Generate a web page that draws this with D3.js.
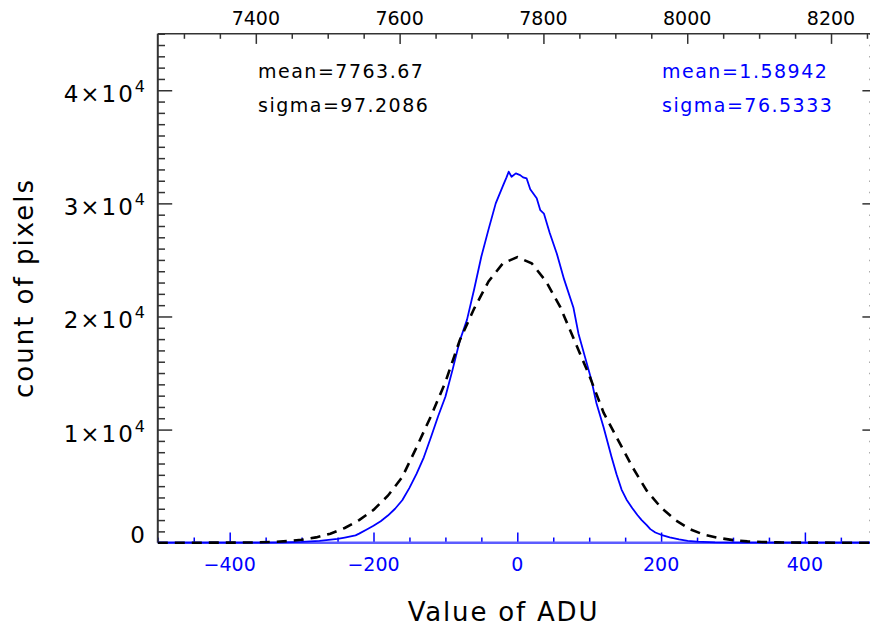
<!DOCTYPE html>
<html><head><meta charset="utf-8">
<script src="https://cdn.jsdelivr.net/npm/d3@7"></script>
<style>body{margin:0;background:#fff}svg{display:block}</style>
</head><body><svg id="c" width="870" height="627"></svg>
<script>
// ---- data ----
const histADU   = [-500,-450,-400,-350,-325,-300,-275,-250,-240,-225,-220,-210,-200,-190,-180,-170,-160,-150,-140,-130,-120,-110,-100,-90,-80,-70,-60,-50,-40,-30,-20,-15,-12,-8,-2,4,8,13,18,27,32,37,45,55,65,78,85,94,103,110,120,131,138,145,152,160,167,173,180,185,192,200,212,225,237,250,275,300,350,400,450,500];
const histCount = [0,0,2,15,35,80,170,330,450,650,800,1150,1500,1900,2400,3000,3750,4850,6100,7550,9350,11200,12900,15300,17850,19700,22400,25300,27700,30000,31550,32300,32800,32350,32650,32500,32300,32200,31250,30450,29400,29100,27400,25550,23300,20800,18500,16450,14400,12350,10200,7600,6050,4700,3800,3050,2450,2000,1550,1200,900,700,470,300,170,90,30,10,2,0,0,0];
const gaussADU   = [-500,-450,-400,-380,-360,-340,-320,-300,-280,-260,-240,-220,-200,-180,-160,-140,-120,-100,-80,-60,-40,-20,0,20,40,60,80,100,120,140,160,180,200,220,240,260,280,300,320,340,360,380,400,450,500];
const gaussCount = [0,1,5,12,30,70,140,260,470,800,1300,2000,2900,4150,5800,8450,11200,14200,17900,20700,23100,24700,25250,24700,23100,20800,17800,14800,11500,9100,6700,4600,3100,2000,1200,700,420,230,120,60,28,12,5,1,0];
const meanOffset = 7763.67;
const bottomMajor = [-400,-200,0,200,400];
const topMajor = [7400,7600,7800,8000,8200];
const yMajor = [0,10000,20000,30000,40000];
const yMajorLabel = ["0","1×10","2×10","3×10","4×10"];
const yMajorExp = ["","4","4","4","4"];
const statsBlack = ["mean=7763.67","sigma=97.2086"];
const statsBlue = ["mean=1.58942","sigma=76.5333"];
const xTitle = "Value of ADU";
const yTitle = "count of pixels";

// ---- layout ----
const L = 157.8, R = 876.8, T = 33.7, B = 542.7;
const BLUE = "#0000ff", FONT = "'DejaVu Sans', sans-serif";
const svg = d3.select("#c");
const x = d3.scaleLinear().domain([-500, 500]).range([L, R]);
const xTop = d3.scaleLinear().domain([-500 + meanOffset, 500 + meanOffset]).range([L, R]);
const y = d3.scaleLinear().domain([0, 45000]).range([B, T]);

const minorX = d3.range(-500, 501, 50).filter(v => !bottomMajor.includes(v));
const minorTop = d3.range(7300, 8264, 50).filter(v => !topMajor.includes(v));
const minorY = d3.range(0, 45001, 1000).filter(v => !yMajor.includes(v));

function styleAxis(g, color) {
  g.select(".domain").remove();
  g.selectAll(".tick line").attr("stroke", color).attr("stroke-width", 1.5);
  g.selectAll(".tick text").remove();
}
// top axis
svg.append("g").attr("transform", `translate(0,${T})`)
  .call(d3.axisTop(xTop).tickValues(topMajor).tickSize(-10.2)).call(g => styleAxis(g, "#333"));
svg.append("g").attr("transform", `translate(0,${T})`)
  .call(d3.axisTop(xTop).tickValues(minorTop).tickSize(-5.1)).call(g => styleAxis(g, "#333"));
// left axis
svg.append("g").attr("transform", `translate(${L},0)`)
  .call(d3.axisLeft(y).tickValues(yMajor).tickSize(-14.4)).call(g => styleAxis(g, "#333"));
svg.append("g").attr("transform", `translate(${L},0)`)
  .call(d3.axisLeft(y).tickValues(minorY).tickSize(-7.2)).call(g => styleAxis(g, "#333"));
// right axis
svg.append("g").attr("transform", `translate(${R},0)`)
  .call(d3.axisRight(y).tickValues(yMajor).tickSize(-14.4)).call(g => styleAxis(g, "#333"));
svg.append("g").attr("transform", `translate(${R},0)`)
  .call(d3.axisRight(y).tickValues(minorY).tickSize(-7.2)).call(g => styleAxis(g, "#333"));
// bottom axis
svg.append("g").attr("transform", `translate(0,${B})`)
  .call(d3.axisBottom(x).tickValues(bottomMajor).tickSize(-10.2)).call(g => styleAxis(g, BLUE));
svg.append("g").attr("transform", `translate(0,${B})`)
  .call(d3.axisBottom(x).tickValues(minorX).tickSize(-5.1)).call(g => styleAxis(g, BLUE));

// axis lines
svg.append("line").attr("x1", L).attr("x2", R).attr("y1", T).attr("y2", T).attr("stroke", "#333").attr("stroke-width", 1.5);
svg.append("line").attr("x1", L).attr("x2", L).attr("y1", T).attr("y2", B).attr("stroke", "#333").attr("stroke-width", 2);
svg.append("line").attr("x1", R).attr("x2", R).attr("y1", T).attr("y2", B).attr("stroke", "#333").attr("stroke-width", 2);
svg.append("line").attr("x1", L).attr("x2", R).attr("y1", B).attr("y2", B).attr("stroke", "#5c5cff").attr("stroke-width", 2.5);

// curves
svg.append("clipPath").attr("id", "pc").append("rect")
  .attr("x", L).attr("y", T - 2).attr("width", R - L).attr("height", B - T + 4);
const lineG = d3.line().x(d => x(d[0])).y(d => y(d[1]));
svg.append("path").datum(d3.zip(histADU, histCount)).attr("clip-path", "url(#pc)")
  .attr("d", lineG).attr("fill", "none").attr("stroke", BLUE).attr("stroke-width", 1.8)
  .attr("stroke-linejoin", "round");
svg.append("path").datum(d3.zip(gaussADU, gaussCount)).attr("clip-path", "url(#pc)")
  .attr("d", lineG).attr("fill", "none").attr("stroke", "#000").attr("stroke-width", 2.6)
  .attr("stroke-dasharray", "10,7");

// tick labels
svg.append("g").selectAll("text").data(topMajor).join("text")
  .attr("x", d => xTop(d)).attr("y", 25).attr("text-anchor", "middle")
  .attr("font-family", FONT).attr("font-size", 19).attr("fill", "#000").text(d => d);
svg.append("g").selectAll("text").data(bottomMajor).join("text")
  .attr("x", d => x(d)).attr("y", 571).attr("text-anchor", "middle")
  .attr("font-family", FONT).attr("font-size", 19).attr("fill", BLUE).text(d => d < 0 ? "−" + Math.abs(d) : d);
const yl = svg.append("g").selectAll("text").data(yMajor).join("text")
  .attr("x", 147).attr("y", (d, i) => y(d) + (yMajorExp[i] ? 12 : 0))
  .attr("text-anchor", "end").attr("font-family", FONT).attr("font-size", 23).attr("fill", "#000")
  .attr("letter-spacing", 2);
yl.append("tspan").text((d, i) => yMajorLabel[i]);
yl.append("tspan").attr("dy", -10).attr("font-size", 16).text((d, i) => yMajorExp[i]);

// stats annotations
svg.append("g").selectAll("text").data(statsBlack).join("text")
  .attr("x", 258).attr("y", (d, i) => 78 + i * 33.5)
  .attr("font-family", FONT).attr("font-size", 19).attr("letter-spacing", 1.5).attr("fill", "#000").text(d => d);
svg.append("g").selectAll("text").data(statsBlue).join("text")
  .attr("x", 662).attr("y", (d, i) => 78 + i * 33.5)
  .attr("font-family", FONT).attr("font-size", 19).attr("letter-spacing", 1.5).attr("fill", BLUE).text(d => d);

// axis titles
svg.append("text").attr("x", 503.5).attr("y", 621).attr("text-anchor", "middle")
  .attr("font-family", FONT).attr("font-size", 26).attr("letter-spacing", 1.8).attr("fill", "#000").text(xTitle);
svg.append("text").attr("transform", "translate(33,288) rotate(-90)").attr("text-anchor", "middle")
  .attr("font-family", FONT).attr("font-size", 26).attr("letter-spacing", 2).attr("fill", "#000").text(yTitle);
</script></body></html>
